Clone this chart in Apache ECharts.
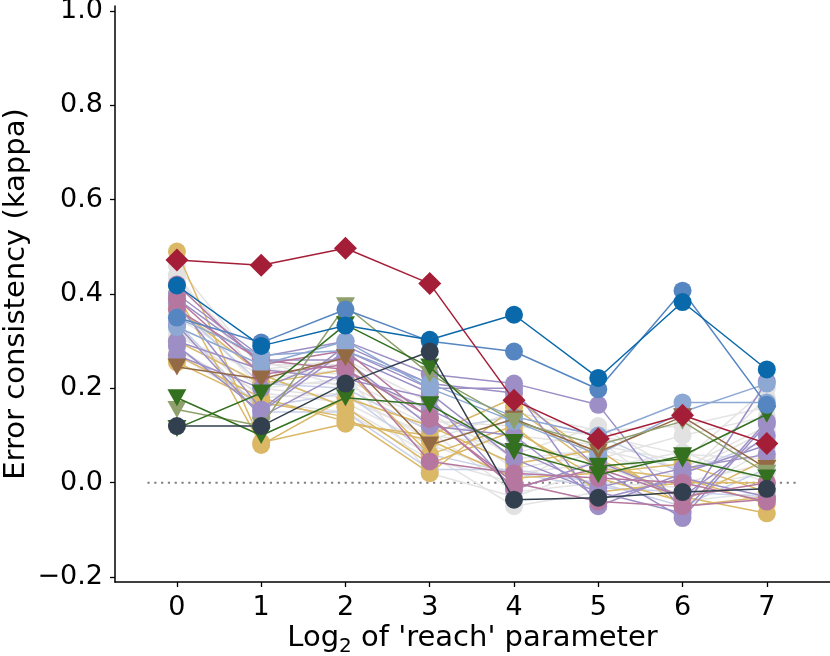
<!DOCTYPE html>
<html>
<head>
<meta charset="utf-8">
<script src="https://cdn.jsdelivr.net/npm/echarts@6/dist/echarts.min.js"></script>
<style>html,body{margin:0;padding:0;background:#fff;}#c{width:830px;height:656px;}</style>
</head>
<body>
<div id="c"></div>
<script>
// x positions: log2 of 'reach' parameter
const xs = [0, 1, 2, 3, 4, 5, 6, 7];
const xTicks = [0, 1, 2, 3, 4, 5, 6, 7];
const yTicks = [-0.2, 0.0, 0.2, 0.4, 0.6, 0.8, 1.0];
const zeroLineX = [-0.35, 7.35];
const zeroLineY = 0;

// background (grey) models
const gray1  = [0.46, 0.24, 0.26, 0.17, 0.05, 0.07, 0.03, 0.12];
const gray2  = [0.44, 0.22, 0.24, 0.15, 0.03, 0.06, 0.01, 0.18];
const gray3  = [0.38, 0.20, 0.22, 0.13, 0.12, 0.10, 0.06, 0.05];
const gray4  = [0.36, 0.26, 0.20, 0.11, -0.02, 0.00, -0.01, 0.02];
const gray5  = [0.33, 0.18, 0.19, 0.09, 0.15, 0.11, 0.12, 0.16];
const gray6  = [0.31, 0.23, 0.16, 0.06, -0.05, -0.02, 0.00, 0.04];
const gray7  = [0.30, 0.21, 0.21, 0.12, 0.10, 0.08, 0.045, 0.20];
const gray8  = [0.28, 0.19, 0.17, 0.08, 0.02, 0.04, -0.03, 0.07];
const gray9  = [0.35, 0.24, 0.23, 0.02, -0.03, 0.03, 0.065, 0.00];
const gray10 = [0.43, 0.25, 0.25, 0.14, 0.06, 0.12, 0.02, 0.11];
const gray11 = [0.27, 0.17, 0.15, 0.05, 0.00, 0.09, -0.04, -0.02];
const gray12 = [0.32, 0.20, 0.18, 0.10, 0.08, 0.05, 0.10, 0.14];
// light blue models
const lblue1 = [0.34, 0.15, 0.15, 0.028, 0.028, 0.00, -0.05, 0.03];
const lblue2 = [0.29, 0.16, 0.19, 0.06, 0.02, -0.01, -0.02, -0.03];
const lblue3 = [0.37, 0.21, 0.20, 0.11, 0.14, 0.10, 0.02, 0.09];
// gold models
const gold1 = [0.49, 0.085, 0.125, 0.10, 0.18, 0.05, -0.03, -0.065];
const gold2 = [0.255, 0.17, 0.14, 0.02, 0.16, 0.03, 0.01, -0.045];
const gold3 = [0.40, 0.08, 0.18, 0.12, 0.04, 0.07, -0.05, -0.03];
const gold4 = [0.30, 0.21, 0.24, 0.06, 0.12, -0.02, 0.00, 0.00];
const gold5 = [0.27, 0.18, 0.13, 0.09, 0.01, 0.02, 0.04, -0.02];
const gold6 = [0.37, 0.23, 0.16, 0.04, 0.11, 0.01, -0.04, 0.05];
// purple models
const purple1 = [0.40, 0.267, 0.30, 0.23, 0.21, 0.165, -0.06, 0.215];
const purple2 = [0.38, 0.155, 0.29, 0.21, 0.19, 0.03, -0.075, 0.125];
const purple3 = [0.335, 0.14, 0.235, 0.155, 0.07, -0.01, 0.03, 0.06];
const purple4 = [0.30, 0.24, 0.22, 0.18, -0.015, 0.045, -0.03, 0.10];
const purple5 = [0.27, 0.20, 0.27, 0.19, 0.05, -0.02, -0.065, 0.13];
const purple6 = [0.39, 0.26, 0.26, 0.12, 0.10, -0.035, 0.01, -0.03];
const purple7 = [0.29, 0.15, 0.28, 0.20, 0.20, -0.05, 0.02, 0.08];
// mauve models
const mauve1 = [0.42, 0.25, 0.28, 0.135, 0.00, -0.04, -0.05, -0.035];
const mauve2 = [0.39, 0.23, 0.25, 0.045, 0.02, 0.01, 0.00, -0.04];
const mauve3 = [0.367, 0.26, 0.24, 0.14, -0.01, 0.03, -0.03, 0.00];
// light steel blue models
const lsteel1 = [0.35, 0.27, 0.28, 0.21, 0.14, 0.10, 0.17, 0.17];
const lsteel2 = [0.33, 0.25, 0.30, 0.20, 0.13, 0.06, 0.15, 0.21];
// highlighted models
const brownTri = [0.245, 0.22, 0.265, 0.08, 0.135, 0.065, 0.14, 0.03];
const oliveTri = [0.155, 0.12, 0.375, 0.23, 0.13, 0.08, 0.13, 0.02];
const greenTriA = [0.18, 0.10, 0.18, 0.165, 0.066, 0.017, 0.057, 0.145];
const greenTriB = [0.115, 0.19, 0.335, 0.245, 0.085, 0.035, 0.05, 0.01];
const steelBlue = [0.35, 0.297, 0.367, 0.30, 0.278, 0.198, 0.407, 0.165];
const darkBlue = [0.418, 0.29, 0.333, 0.303, 0.356, 0.222, 0.383, 0.24];
const navy = [0.12, 0.12, 0.21, 0.278, -0.036, -0.032, -0.02, -0.013];
const redDiamond = [0.472, 0.461, 0.497, 0.422, 0.175, 0.093, 0.143, 0.083];

const styles = {
  gray:   {color: '#e2e2e2', line: '#e4e4e4', symbol: 'circle'},
  lblue:  {color: '#c6cee6', line: '#c9d1e8', symbol: 'circle'},
  gold:   {color: '#dbb866', line: '#dbb866', symbol: 'circle'},
  purple: {color: '#9d8fc6', line: '#9d8fc6', symbol: 'circle'},
  mauve:  {color: '#b5779f', line: '#b5779f', symbol: 'circle'},
  lsteel: {color: '#8ea8d4', line: '#8ea8d4', symbol: 'circle'},
  brown:  {color: '#946a45', line: '#946a45', symbol: 'tri'},
  olive:  {color: '#8fa06c', line: '#8fa06c', symbol: 'tri'},
  green:  {color: '#33701f', line: '#33701f', symbol: 'tri'},
  steel:  {color: '#5686c1', line: '#5686c1', symbol: 'circle'},
  dblue:  {color: '#0a69aa', line: '#0a69aa', symbol: 'circle'},
  navy:   {color: '#323f4e', line: '#323f4e', symbol: 'circle'},
  red:    {color: '#a51e38', line: '#a51e38', symbol: 'diamond'}
};

const defs = [
  ['gray', gray1], ['gray', gray2], ['gray', gray3], ['gray', gray4], ['gray', gray5], ['gray', gray6],
  ['gray', gray7], ['gray', gray8], ['gray', gray9], ['gray', gray10], ['gray', gray11], ['gray', gray12],
  ['lblue', lblue1], ['lblue', lblue2], ['lblue', lblue3],
  ['gold', gold1], ['gold', gold2], ['gold', gold3], ['gold', gold4], ['gold', gold5], ['gold', gold6],
  ['purple', purple1], ['purple', purple2], ['purple', purple3], ['purple', purple4],
  ['purple', purple5], ['purple', purple6], ['purple', purple7],
  ['mauve', mauve1], ['mauve', mauve2], ['mauve', mauve3],
  ['lsteel', lsteel1], ['lsteel', lsteel2],
  ['brown', brownTri], ['olive', oliveTri], ['green', greenTriA], ['green', greenTriB],
  ['steel', steelBlue], ['dblue', darkBlue], ['navy', navy], ['red', redDiamond]
];

const series = [{
  type: 'line',
  data: zeroLineX.map(x => [x, zeroLineY]),
  symbol: 'none',
  lineStyle: {color: '#808080', width: 2, type: [2.2, 4.6]},
  silent: true,
  z: 1
}];

defs.forEach(([st, vals], i) => {
  const s = styles[st];
  let symbol = 'circle', size = 18, rot = 0;
  if (s.symbol === 'tri') { symbol = 'triangle'; size = [19, 17]; rot = 180; }
  if (s.symbol === 'diamond') { symbol = 'diamond'; size = 23; }
  series.push({
    type: 'line',
    data: xs.map((x, j) => [x, vals[j]]),
    symbol: symbol,
    symbolSize: size,
    symbolRotate: rot,
    showAllSymbol: true,
    itemStyle: {color: s.color, opacity: 1},
    lineStyle: {color: s.line, width: 1.5},
    emphasis: {disabled: true},
    z: 2 + i * 0.01,
    zlevel: 0
  });
});

const fontFamily = 'DejaVu Sans';
const minusFmt = v => v.toFixed(1).replace('-', '\u2212');

const chart = echarts.init(document.getElementById('c'), null, {renderer: 'canvas'});
chart.setOption({
  animation: false,
  backgroundColor: '#fff',
  grid: {left: 115, right: 0, top: 6, bottom: 74, containLabel: false, outerBoundsMode: 'none'},
  xAxis: {
    type: 'value',
    min: -0.735, max: 7.75,
    splitLine: {show: false},
    axisLine: {onZero: false, lineStyle: {color: '#000', width: 1.5}},
    axisTick: {customValues: xTicks, length: 5, lineStyle: {color: '#000', width: 1.3}},
    axisLabel: {customValues: xTicks, fontSize: 27, fontFamily, color: '#000', margin: 12},
    name: '{n|Log}{s|2}{n| of \'reach\' parameter}',
    nameLocation: 'middle',
    nameGap: 37,
    nameMoveOverlap: false,
    nameTextStyle: {
      fontFamily, color: '#000', fontSize: 29,
      rich: {
        n: {fontSize: 29, fontFamily, color: '#000', lineHeight: 38, verticalAlign: 'middle'},
        s: {fontSize: 20, fontFamily, color: '#000', lineHeight: 38, verticalAlign: 'bottom'}
      }
    }
  },
  yAxis: {
    type: 'value',
    min: -0.2106, max: 1.0106,
    splitLine: {show: false},
    axisLine: {show: true, onZero: false, lineStyle: {color: '#000', width: 1.5}},
    axisTick: {show: true, customValues: yTicks, length: 5, lineStyle: {color: '#000', width: 1.3}},
    axisLabel: {customValues: yTicks, fontSize: 27, fontFamily, color: '#000', margin: 12, formatter: minusFmt},
    name: 'Error consistency (kappa)',
    nameLocation: 'middle',
    nameGap: 84,
    nameMoveOverlap: false,
    nameTextStyle: {fontFamily, color: '#000', fontSize: 29}
  },
  series: series
});
</script>
</body>
</html>
